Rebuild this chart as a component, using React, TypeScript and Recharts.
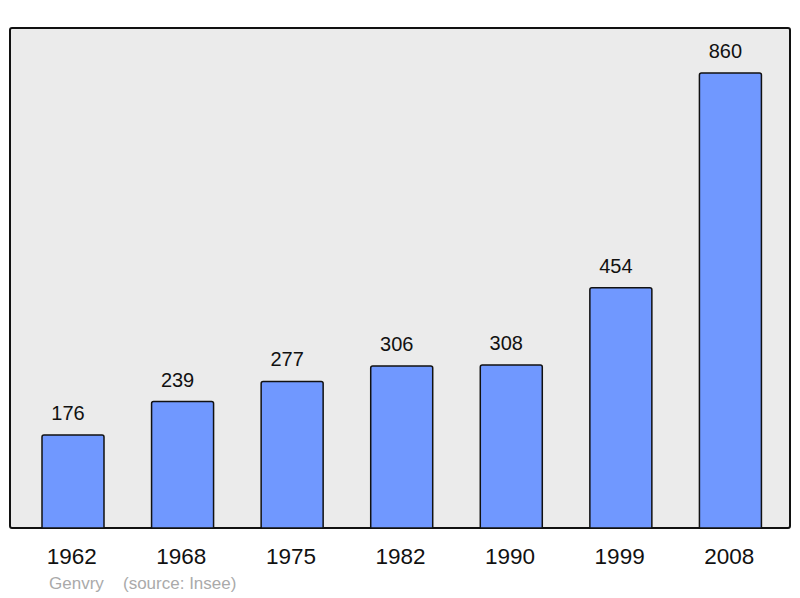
import { BarChart, Bar, XAxis, YAxis, LabelList } from "recharts";

const years = ["1962", "1968", "1975", "1982", "1990", "1999", "2008"];
const population = [176, 239, 277, 306, 308, 454, 860];
const commune = "Genvry";
const source = "(source: Insee)";

const data = years.map((year, i) => ({ year, population: population[i] }));

const font = '"Liberation Sans", Arial, sans-serif';

// value sits a little left of the bar centre, as in the original
const ValueLabel = (props: any) => {
  const { x, y, width, value } = props;
  return (
    <text
      x={Number(x) + Number(width) / 2 - 5}
      y={Number(y) - 15}
      textAnchor="middle"
      fontSize={20}
      fill="#111"
      fontFamily={font}
    >
      {value}
    </text>
  );
};

export default function App() {
  return (
    <div style={{ position: "relative", width: 784, height: 590, fontFamily: font }}>
      {/* grey frame behind the plot */}
      <div
        style={{
          position: "absolute",
          left: 1,
          top: 19,
          width: 778,
          height: 498,
          background: "#ebebeb",
          border: "2px solid #111",
          borderRadius: 3,
        }}
      />
      <div style={{ position: "absolute", left: 0, top: 0 }}>
        <BarChart
          width={784}
          height={582}
          data={data}
          margin={{ top: 65, right: 7, bottom: 0, left: 10 }}
          barCategoryGap={24}
        >
          <YAxis hide domain={[0, 860]} />
          <XAxis
            dataKey="year"
            height={62}
            axisLine={false}
            tickLine={false}
            tickSize={0}
            tickMargin={20}
            tick={{ fontSize: 22.5, fill: "#111", fontFamily: font, dx: -1 }}
          />
          <Bar
            dataKey="population"
            fill="#7098ff"
            stroke="#111"
            strokeWidth={1.5}
            radius={[2, 2, 0, 0]}
            isAnimationActive={false}
          >
            <LabelList dataKey="population" content={ValueLabel} />
          </Bar>
        </BarChart>
      </div>
      <div style={{ position: "absolute", left: 41, top: 567, fontSize: 17, lineHeight: 1, color: "#aaa" }}>
        {commune}
      </div>
      <div style={{ position: "absolute", left: 115, top: 567, fontSize: 17, lineHeight: 1, color: "#aaa" }}>
        {source}
      </div>
    </div>
  );
}
